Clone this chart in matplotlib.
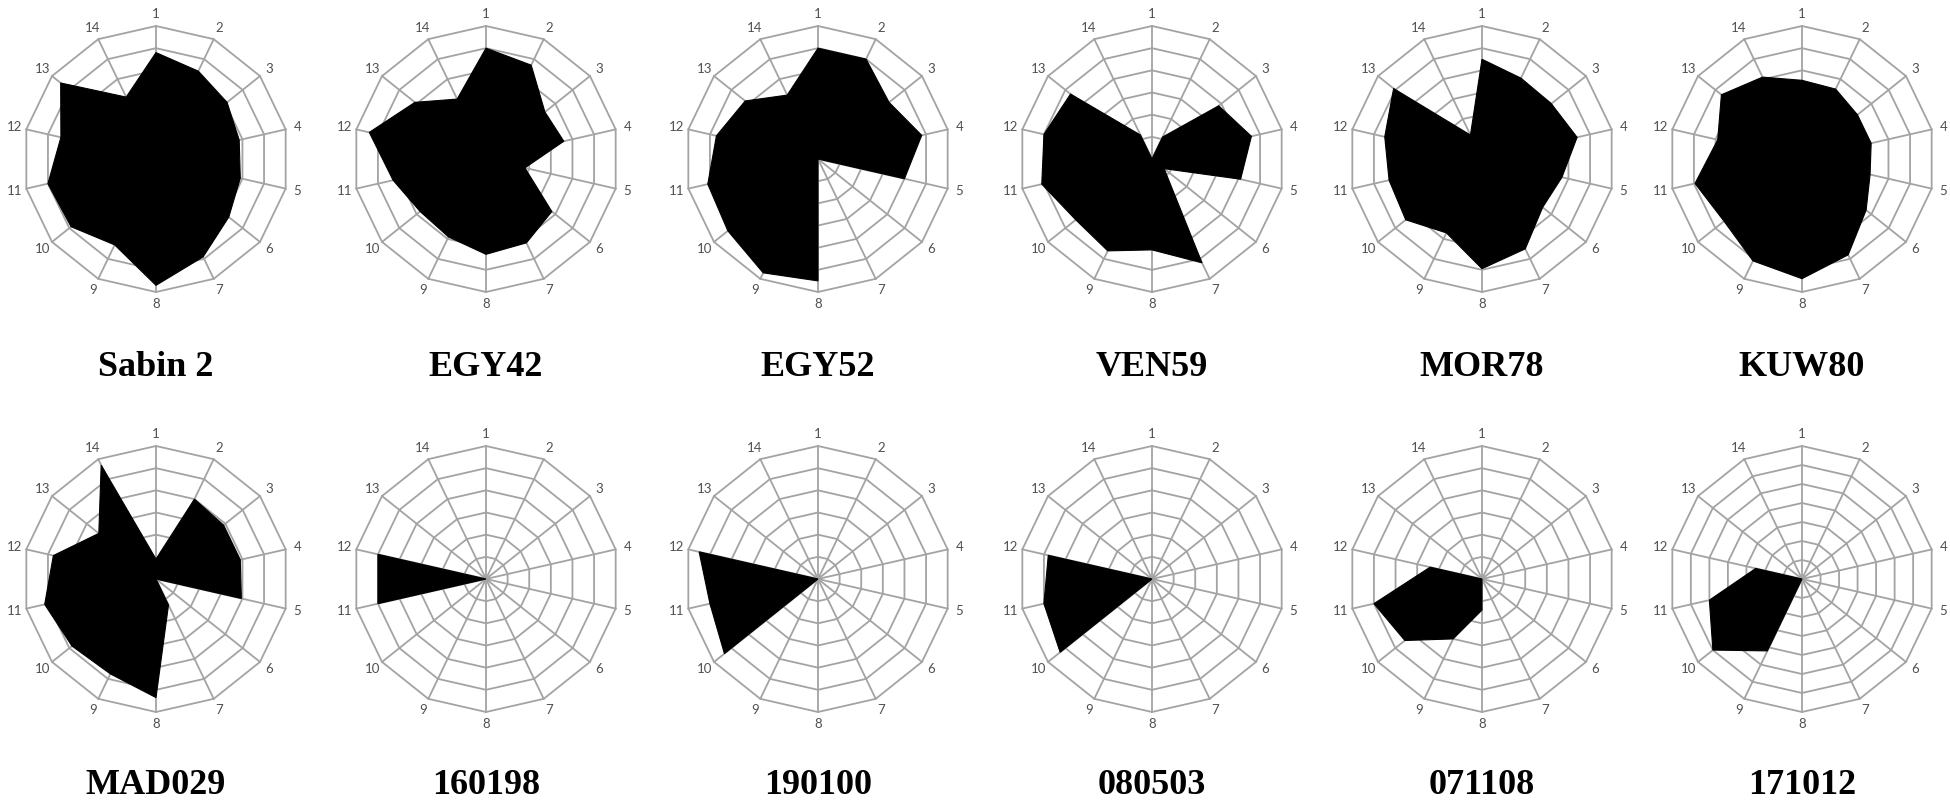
import numpy as np
import matplotlib
matplotlib.use("Agg")
import matplotlib.pyplot as plt

# ---- data -------------------------------------------------------------
axis_labels = [str(i) for i in range(1, 15)]

names = ["Sabin 2", "EGY42", "EGY52", "VEN59", "MOR78", "KUW80",
         "MAD029", "160198", "190100", "080503", "071108", "171012"]

sabin2 = [4.8, 4.4, 4.1, 3.85, 3.9, 4.2, 4.9, 5.7, 4.3, 4.9, 5.0, 4.4, 5.5, 3.1]
egy42  = [5.0, 4.7, 3.4, 3.6, 1.8, 3.8, 4.2, 4.3, 3.9, 3.8, 4.3, 5.4, 4.1, 3.0]
egy52  = [5.0, 5.0, 4.1, 4.8, 4.0, 0.0, 0.0, 5.5, 5.7, 5.2, 5.1, 4.7, 4.2, 3.2]
ven59  = [0.0, 1.1, 3.85, 4.6, 4.1, 0.7, 5.2, 4.1, 4.6, 4.4, 5.1, 5.0, 4.7, 1.2]
mor78  = [4.5, 4.05, 4.0, 4.4, 3.7, 3.5, 4.5, 4.95, 3.7, 4.4, 4.3, 4.5, 5.1, 1.2]
kuw80  = [3.55, 3.5, 3.2, 3.2, 3.15, 3.7, 4.8, 5.4, 5.1, 4.5, 4.95, 3.9, 4.65, 4.1]
mad029 = [0.9, 4.0, 3.9, 3.9, 3.95, 0.0, 1.3, 5.35, 4.75, 4.85, 5.15, 4.75, 3.3, 5.7]
s160198 = [0, 0, 0, 0, 0, 0, 0, 0, 0, 0, 5.0, 5.0, 0, 0]
s190100 = [0, 0, 0, 0, 0, 0, 0, 0, 0, 5.4, 5.0, 5.5, 0, 0]
s080503 = [0, 0, 0, 0, 0, 0, 0, 0, 0, 5.3, 5.0, 4.8, 0, 0]
s071108 = [0, 0, 0, 0, 0, 0, 0, 1.4, 3.0, 4.45, 5.0, 2.4, 0, 0]
s171012 = [0, 0, 0, 0, 0, 0, 0, 0, 4.2, 6.0, 5.0, 2.5, 0, 0]

series = [sabin2, egy42, egy52, ven59, mor78, kuw80,
          mad029, s160198, s190100, s080503, s071108, s171012]
scale_max = [6, 6, 6, 6, 6, 6, 6, 6, 6, 6, 6, 7]

# ---- layout -----------------------------------------------------------
W, H = 1950, 800
fig = plt.figure(figsize=(W / 100, H / 100), dpi=100)
fig.patch.set_facecolor("white")

centers_x = [156, 486, 818, 1152, 1482, 1802]
row_cy = [159, 579]
title_y = [367, 785]
R = 133  # outer ring radius in px

grid_color = "#a3a3a3"
label_color = "#505050"
n = len(axis_labels)
angles = np.linspace(0, 2 * np.pi, n, endpoint=False)
ang_closed = np.append(angles, angles[0])

for idx, (name, vals, vmax) in enumerate(zip(names, series, scale_max)):
    row, col = divmod(idx, 6)
    cx, cy = centers_x[col], row_cy[row]
    ax = fig.add_axes([(cx - R) / W, 1 - (cy + R) / H, 2 * R / W, 2 * R / H],
                      projection="polar")
    ax.set_theta_zero_location("N")
    ax.set_theta_direction(-1)
    ax.set_ylim(0, vmax)
    ax.grid(False)
    ax.set_xticks([])
    ax.set_yticks([])
    ax.spines["polar"].set_visible(False)
    ax.patch.set_visible(False)

    # polygon rings
    for lvl in range(1, vmax + 1):
        ax.plot(ang_closed, [lvl] * (n + 1), color=grid_color, lw=1.3,
                zorder=1, clip_on=False)
    # spokes
    for a in angles:
        ax.plot([a, a], [0, vmax], color=grid_color, lw=1.3, zorder=1,
                clip_on=False)

    # data polygon
    v = np.array(vals, dtype=float)
    ax.fill(angles, v, color="black", edgecolor="black", lw=0.8, zorder=3)

    # axis labels
    for a, lab in zip(angles, axis_labels):
        ax.text(a, vmax * 1.09, lab, ha="center", va="center",
                fontsize=9.5, color=label_color, family=["Lato", "DejaVu Sans"])

    fig.text(cx / W, 1 - title_y[row] / H, name, ha="center", va="center",
             fontsize=26, fontweight="bold",
             family=["Liberation Serif", "DejaVu Serif"], color="black")

fig.savefig("out.png", dpi=100, facecolor="white")
